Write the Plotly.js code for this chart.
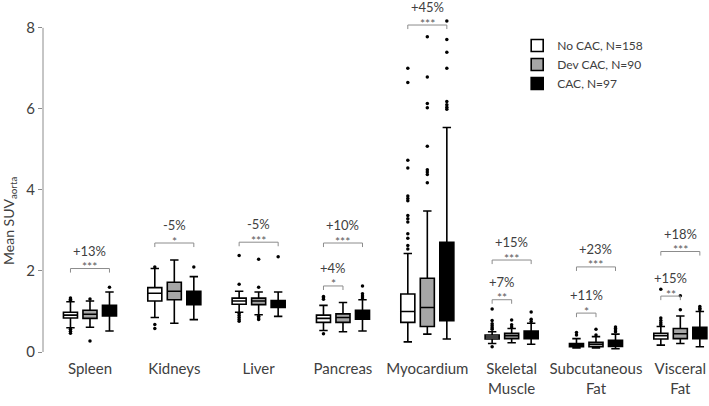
<!DOCTYPE html>
<html>
<head>
<meta charset="utf-8">
<script src="https://cdn.plot.ly/plotly-3.0.1.min.js"></script>
<style>html,body{margin:0;padding:0;background:#fff;}#chart{width:709px;height:406px;}</style>
</head>
<body>
<div id="chart"></div>
<script>
// ---------- DATA ----------
const categories = ["Spleen","Kidneys","Liver","Pancreas","Myocardium","Skeletal<br>Muscle","Subcutaneous<br>Fat","Visceral<br>Fat"];
const seriesNames = ["No CAC, N=158","Dev CAC, N=90","CAC, N=97"];

// No CAC
const noQ1   = [0.84, 1.26, 1.18, 0.73, 0.73, 0.32, 0.13, 0.32];
const noMed  = [0.91, 1.45, 1.26, 0.83, 1.00, 0.37, 0.17, 0.40];
const noQ3   = [0.98, 1.59, 1.33, 0.91, 1.43, 0.42, 0.21, 0.46];
const noLo   = [0.60, 0.85, 0.98, 0.53, 0.25, 0.21, 0.10, 0.17];
const noHi   = [1.24, 2.06, 1.50, 1.15, 2.43, 0.50, 0.33, 0.63];
const noOut  = [
  [1.27, 1.30, 1.33, 0.56, 0.51, 0.46],
  [2.10, 0.68, 0.58],
  [2.38, 1.67, 0.95, 0.90, 0.85, 0.80, 0.76],
  [1.30, 1.34, 1.37, 0.45],
  [7.00, 6.65, 4.73, 4.54, 3.85, 3.79, 3.73, 3.37, 3.29, 3.21, 2.92, 2.81, 2.63, 2.54],
  [1.06, 0.78, 0.70, 0.65, 0.60, 0.56, 0.13],
  [0.48, 0.42],
  [1.55, 0.84, 0.78, 0.72, 0.67]
];

// Dev CAC
const devQ1  = [0.83, 1.29, 1.17, 0.73, 0.63, 0.33, 0.13, 0.33];
const devMed = [0.93, 1.50, 1.26, 0.85, 1.10, 0.40, 0.19, 0.45];
const devQ3  = [1.03, 1.72, 1.33, 0.94, 1.82, 0.46, 0.24, 0.58];
const devLo  = [0.61, 0.71, 0.92, 0.50, 0.44, 0.23, 0.10, 0.21];
const devHi  = [1.26, 2.27, 1.48, 1.22, 3.48, 0.58, 0.38, 0.89];
const devOut = [
  [1.31, 0.27],
  [],
  [2.29, 1.60, 0.88, 0.84, 0.80],
  [],
  [7.78, 6.79, 6.13, 6.03, 5.08, 4.50, 4.44, 4.38, 4.18],
  [0.79, 0.67, 0.62],
  [0.56, 0.42],
  [1.39, 1.04]
];

// CAC
const cacQ1  = [0.89, 1.17, 1.10, 0.81, 0.77, 0.33, 0.14, 0.33];
const cacMed = [1.00, 1.35, 1.20, 0.93, 1.50, 0.43, 0.22, 0.47];
const cacQ3  = [1.15, 1.50, 1.27, 1.03, 2.71, 0.52, 0.29, 0.61];
const cacLo  = [0.52, 0.80, 0.88, 0.52, 0.32, 0.19, 0.08, 0.13];
const cacHi  = [1.48, 1.86, 1.48, 1.29, 5.54, 0.71, 0.44, 1.00];
const cacOut = [
  [1.60],
  [2.10],
  [2.35],
  [1.63, 1.44, 1.38, 1.33],
  [8.17, 7.71, 7.40, 7.00, 6.18, 6.10, 6.04, 5.99],
  [0.99, 0.81, 0.75],
  [0.62, 0.58, 0.54, 0.50],
  [1.12, 1.08, 1.04]
];

// Significance comparisons: category index, from series, to series, bracket level, stars, percent
const cmpGroup = [0, 1, 2, 3, 3, 4, 5, 5, 6, 6, 7, 7];
const cmpFrom  = [0, 0, 0, 0, 0, 0, 0, 0, 0, 0, 0, 0];
const cmpTo    = [2, 2, 2, 2, 1, 2, 2, 1, 2, 1, 2, 1];
const cmpLevel = [2.06, 2.69, 2.71, 2.69, 1.63, 8.07, 2.27, 1.29, 2.10, 0.96, 2.48, 1.38];
const cmpStars = ["***", "*", "***", "***", "*", "***", "***", "**", "***", "*", "***", "**"];
const cmpPct   = ["+13%", "-5%", "-5%", "+10%", "+4%", "+45%", "+15%", "+7%", "+23%", "+11%", "+18%", "+15%"];

const yTitle = "Mean SUV<sub>aorta</sub>";

// ---------- STYLE ----------
const fills = ["#ffffff", "#a6a6a6", "#000000"];
const FONT = "Lato, 'Open Sans', sans-serif";
const BOXGAP = 0.306, BOXGROUPGAP = 0.28;

const stats = [
  [noQ1, noMed, noQ3, noLo, noHi, noOut],
  [devQ1, devMed, devQ3, devLo, devHi, devOut],
  [cacQ1, cacMed, cacQ3, cacLo, cacHi, cacOut]
];

const traces = stats.map((s, k) => ({
  type: "box",
  name: seriesNames[k],
  x: categories,
  q1: s[0], median: s[1], q3: s[2],
  lowerfence: s[3], upperfence: s[4],
  y: s[5],
  boxpoints: "outliers",
  jitter: 0, pointpos: 0,
  whiskerwidth: 0.6,
  fillcolor: fills[k],
  line: {color: "#000000", width: 1.6},
  marker: {color: "#000000", size: 3.5, outliercolor: "#000000", line: {width: 0}},
  hoverinfo: "skip"
}));

const slot = (1 - BOXGAP) / 3;
const tick = 0.1;
const shapes = [{
  type: "line", xref: "paper", yref: "y", x0: 0, x1: 0, y0: 0, y1: 8,
  line: {color: "#8c8c8c", width: 1}
}];
const annotations = [{
  text: yTitle, xref: "paper", yref: "paper", x: -0.05, y: 0.38,
  xanchor: "center", yanchor: "middle", textangle: -90, showarrow: false,
  font: {family: FONT, size: 14, color: "#404040"}
}];
cmpGroup.forEach((g, i) => {
  const xa = g + (cmpFrom[i] - 1) * slot;
  const xb = g + (cmpTo[i] - 1) * slot;
  const yl = cmpLevel[i];
  shapes.push({
    type: "path", xref: "x", yref: "y",
    path: `M${xa},${yl - tick} L${xa},${yl} L${xb},${yl} L${xb},${yl - tick}`,
    line: {color: "#8c8c8c", width: 1}
  });
  annotations.push({
    x: (xa + xb) / 2, y: yl, xref: "x", yref: "y", text: cmpStars[i],
    showarrow: false, yanchor: "middle", yshift: 2,
    font: {family: FONT, size: 12, color: "#595959"}
  });
  annotations.push({
    x: (xa + xb) / 2, y: yl, xref: "x", yref: "y", text: cmpPct[i],
    showarrow: false, yanchor: "middle", yshift: 18,
    font: {family: FONT, size: 13, color: "#404040"}
  });
});

const layout = {
  width: 709, height: 406,
  margin: {l: 43, r: 0, t: 8, b: 54},
  paper_bgcolor: "#ffffff", plot_bgcolor: "#ffffff",
  boxmode: "group", boxgap: BOXGAP, boxgroupgap: BOXGROUPGAP,
  font: {family: FONT, color: "#404040"},
  showlegend: true,
  legend: {
    x: 0.712, y: 0.933, xanchor: "left", yanchor: "top",
    font: {family: FONT, size: 12, color: "#404040"},
    bgcolor: "rgba(0,0,0,0)", tracegroupgap: 0
  },
  xaxis: {
    type: "category", range: [-0.557, 7.34],
    showline: false, showgrid: false, zeroline: false, ticks: "",
    tickfont: {family: FONT, size: 15, color: "#404040"},
    ticklabelstandoff: 6,
    fixedrange: true
  },
  yaxis: {
    range: [0, 8.49], tickvals: [0, 2, 4, 6, 8],
    showline: false, showgrid: false, zeroline: false,
    ticks: "outside", ticklen: 4, tickcolor: "#8c8c8c",
    tickfont: {family: FONT, size: 15, color: "#404040"},
    fixedrange: true
  },
  shapes: shapes,
  annotations: annotations
};

Plotly.newPlot("chart", traces, layout, {displayModeBar: false, staticPlot: true});
</script>
</body>
</html>
